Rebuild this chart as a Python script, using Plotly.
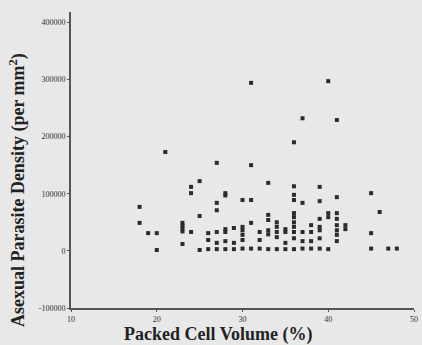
import plotly.graph_objects as go

pcv = [31, 40, 37, 41, 36, 21, 27, 31, 25, 24, 24, 28, 28, 33, 36, 39, 36, 36, 39, 41, 45, 37,
       30, 31, 27, 27, 18, 18, 19, 20, 20,
       23, 23, 23, 23, 23, 24, 25, 25,
       26, 26, 26, 27, 27, 27, 28, 28, 28, 28, 29, 29, 29,
       30, 30, 30, 30, 30, 31, 31, 32, 32, 32,
       33, 33, 33, 33, 33, 34, 34, 34, 34, 34, 35, 35, 35, 35,
       36, 36, 36, 36, 36, 36, 36, 37, 37, 37, 38, 38, 38, 38,
       39, 39, 39, 39, 39, 40, 40, 40, 41, 41, 41, 41, 41, 41, 42, 42,
       46, 45, 45, 47, 48]
density = [294000, 297000, 232000, 229000, 190000, 173000, 154000, 150000, 122000, 112000, 101000,
           101000, 97000, 119000, 113000, 112000, 98000, 89000, 87000, 94000, 101000, 84000,
           89000, 89000, 84000, 71000, 77000, 49000, 31000, 31000, 1500,
           49000, 44000, 39000, 34000, 12000, 33000, 61000, 1500,
           31000, 19000, 3000, 33000, 14000, 3000, 38000, 33000, 17000, 3000, 40000, 14000, 3000,
           42000, 36000, 28000, 19000, 4000, 49000, 4000, 33000, 19000, 4000,
           63000, 54000, 36000, 29000, 3000, 50000, 42000, 33000, 24000, 3000, 38000, 33000, 14000, 3000,
           66000, 59000, 50000, 42000, 33000, 22000, 3000, 33000, 17000, 4000, 45000, 33000, 17000, 4000,
           56000, 42000, 36000, 22000, 4000, 66000, 59000, 3000, 66000, 56000, 45000, 36000, 28000, 17000, 45000, 38000,
           68000, 31000, 4000, 4000, 4000]

xticks = [10, 20, 30, 40, 50]
yticks = [-100000, 0, 100000, 200000, 300000, 400000]
x_title = "Packed Cell Volume (%)"
y_title = "Asexual Parasite Density (per mm<sup>2</sup>)"

fig = go.Figure(go.Scatter(
    x=pcv, y=density, mode="markers",
    marker=dict(symbol="square", size=4, color="#2b2b2b"),
    showlegend=False,
))

font_serif = "Liberation Serif"
fig.update_layout(
    width=422, height=345,
    margin=dict(l=71, r=4, t=12, b=37),
    paper_bgcolor="#e8e8e8", plot_bgcolor="#e8e8e8",
    font=dict(family=font_serif, color="#333"),
    annotations=[
        dict(text="<b>" + x_title + "</b>", xref="paper", yref="paper",
             x=0.429, y=-0.091, xanchor="center", yanchor="middle", showarrow=False,
             font=dict(size=18, family=font_serif, color="#222")),
        dict(text="<b>" + y_title + "</b>", xref="paper", yref="paper",
             x=-0.156, y=0.40, xanchor="center", yanchor="middle", showarrow=False,
             textangle=-90, font=dict(size=18, family=font_serif, color="#222")),
    ],
)
fig.update_xaxes(
    range=[10, 50], tickvals=xticks, ticktext=[str(t) for t in xticks],
    showgrid=False, zeroline=False, showline=True, linecolor="#555", linewidth=2,
    ticks="outside", ticklen=2, tickcolor="#555",
    tickfont=dict(size=8, family=font_serif, color="#333"),
)
fig.update_yaxes(
    range=[-100000, 418000], tickvals=yticks, ticktext=[str(t) for t in yticks],
    showgrid=False, zeroline=False, showline=True, linecolor="#555", linewidth=2,
    ticks="outside", ticklen=2, tickcolor="#555",
    tickfont=dict(size=8, family=font_serif, color="#333"),
)

fig.write_html("out.html")
